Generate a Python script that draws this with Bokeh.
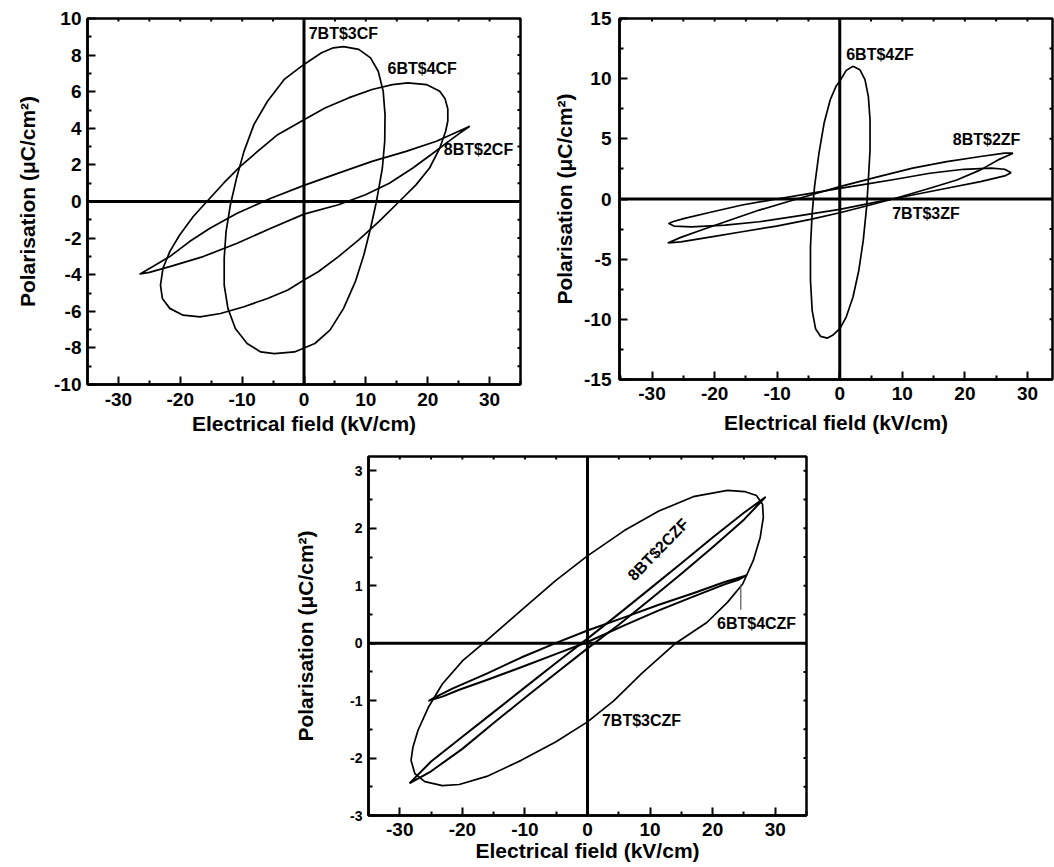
from math import pi
from bokeh.plotting import figure
from bokeh.models import Range1d, FixedTicker, Span, Spacer
from bokeh.layouts import column, row
from bokeh.embed import file_html
from bokeh.resources import INLINE
from bokeh.core.properties import value

FONT = "Liberation Sans"

# ---------------- data (E in kV/cm, P in uC/cm2) ----------------
# Panel A
cf7_x = [6.4, 8.85, 10.76, 12.0, 12.8, 13.1, 13.05, 12.67, 12.1, 11.6, 10.76, 9.67, 8.3, 6.4, 4.2, 1.75, -1.53, -4.8, -7.0, -9.2, -11.1, -12.3, -12.9, -12.9, -12.6, -11.9, -10.9, -9.7, -8.1, -5.9, -3.2, 0.0, 2.84, 4.75]
cf7_y = [8.46, 8.31, 7.85, 7.12, 6.03, 4.75, 3.29, 1.83, 0.73, -0.18, -1.46, -2.92, -4.38, -5.84, -7.03, -7.76, -8.22, -8.31, -8.22, -7.76, -6.94, -5.84, -4.57, -3.1, -1.64, -0.18, 1.28, 2.74, 4.2, 5.48, 6.67, 7.49, 8.13, 8.4]
cf6_x = [16.77, 19.8, 21.95, 22.8, 23.25, 23.25, 22.9, 21.95, 20.3, 18.1, 15.4, 12.1, 8.85, 5.57, 2.3, 0.0, -2.6, -5.9, -9.7, -13.5, -16.8, -19.55, -21.7, -22.9, -23.2, -22.8, -21.7, -20.1, -17.9, -15.7, -13.0, -10.3, -7.5, -4.26, 0.0, 3.39, 7.2, 11.0, 14.3]
cf6_y = [6.48, 6.39, 6.03, 5.62, 5.05, 4.4, 3.84, 2.92, 1.83, 0.91, 0.0, -1.1, -2.1, -3.01, -3.84, -4.29, -4.84, -5.3, -5.75, -6.12, -6.3, -6.21, -5.84, -5.3, -4.57, -3.65, -2.74, -1.83, -0.82, 0.0, 1.0, 1.92, 2.74, 3.65, 4.47, 5.11, 5.66, 6.12, 6.39]
cf8_x = [26.8, 25.2, 23.05, 20.9, 17.6, 13.8, 9.94, 5.57, 0.0, -5.35, -10.8, -16.3, -21.7, -25.0, -26.5, -24.5, -21.7, -18.5, -15.2, -10.8, -5.35, 0.0, 5.57, 11.0, 16.5, 21.4, 24.65]
cf8_y = [4.11, 3.74, 3.2, 2.65, 1.83, 1.0, 0.37, -0.18, -0.69, -1.46, -2.28, -3.01, -3.56, -3.87, -3.96, -3.56, -3.01, -2.19, -1.46, -0.64, 0.18, 0.88, 1.55, 2.19, 2.74, 3.29, 3.78]

# Panel B
zf6_x = [2.12, 3.21, 4.03, 4.57, 4.84, 4.84, 4.57, 4.3, 3.76, 3.05, 2.12, 1.03, 0.0, -1.14, -1.96, -3.05, -3.87, -4.41, -4.68, -4.68, -4.41, -4.03, -3.32, -2.5, -1.52, -0.6, 0.0, 1.03]
zf6_y = [11.03, 10.75, 9.92, 8.53, 6.58, 4.08, 1.58, -0.64, -3.42, -5.92, -8.14, -9.81, -10.78, -11.33, -11.56, -11.42, -10.78, -9.25, -6.75, -3.97, -1.19, 1.03, 3.81, 6.31, 8.25, 9.36, 9.78, 10.69]
zf8_x = [27.7, 25.3, 22.5, 18.7, 14.4, 8.93, 3.48, 0.0, -4.68, -10.1, -15.6, -21.0, -25.4, -27.4, -25.4, -22.1, -18.3, -12.85, -7.4, 0.0, 6.2, 11.65, 17.1, 22.5, 26.35]
zf8_y = [3.81, 3.25, 2.42, 1.58, 0.89, 0.06, -0.69, -1.14, -1.69, -2.25, -2.72, -3.19, -3.56, -3.64, -3.19, -2.58, -1.89, -0.92, -0.08, 1.03, 1.86, 2.56, 3.11, 3.53, 3.81]
zf7_x = [27.4, 26.35, 24.2, 19.8, 14.4, 8.93, 3.48, 0.0, -4.68, -10.1, -15.6, -21.0, -24.8, -26.7, -27.3, -26.5, -23.7, -18.3, -12.85, -7.4, 0.0, 6.2, 11.65, 17.1, 22.5, 26.35]
zf7_y = [2.19, 2.47, 2.56, 2.47, 2.14, 1.64, 1.17, 0.89, 0.47, 0.0, -0.5, -1.14, -1.61, -1.89, -2.03, -2.25, -2.31, -2.17, -1.89, -1.47, -0.86, -0.22, 0.33, 0.89, 1.44, 1.92]

# Panel C
czf7_x = [22.36, 25.1, 27.0, 27.97, 28.1, 27.6, 26.5, 24.8, 22.36, 19.07, 14.1, 8.63, 4.23, 0.0, -5.1, -10.6, -16.1, -20.5, -23.2, -26.0, -27.6, -28.2, -27.9, -27.1, -25.4, -23.2, -19.9, -16.1, -10.6, -5.1, 0.0, 5.88, 11.4, 16.9]
czf7_y = [2.66, 2.64, 2.57, 2.42, 2.19, 1.84, 1.44, 1.03, 0.71, 0.36, 0.0, -0.53, -1.0, -1.37, -1.72, -2.04, -2.32, -2.46, -2.48, -2.41, -2.27, -2.04, -1.81, -1.52, -1.11, -0.71, -0.3, 0.05, 0.57, 1.09, 1.52, 1.96, 2.3, 2.55]
czf8_x = [-28.46, -25.0, -20.0, -15.0, -10.0, -5.0, 0.0, 5.0, 10.0, 15.0, 20.0, 25.0, 28.4, 25.0, 20.0, 15.0, 10.0, 5.0, 0.0, -5.0, -10.0, -15.0, -20.0, -25.0]
czf8_y = [-2.44, -2.06, -1.63, -1.2, -0.77, -0.34, 0.08, 0.51, 0.95, 1.39, 1.84, 2.27, 2.54, 2.15, 1.67, 1.21, 0.76, 0.32, -0.09, -0.52, -0.95, -1.39, -1.84, -2.23]
czf6_x = [25.4, 24.0, 21.8, 16.9, 11.4, 5.88, 0.0, -5.1, -10.6, -16.1, -20.5, -23.2, -25.3, -24.3, -21.6, -16.1, -10.6, -5.1, 0.0, 5.88, 11.4, 16.9, 21.8]
czf6_y = [1.18, 1.1, 1.02, 0.81, 0.57, 0.31, 0.02, -0.19, -0.42, -0.64, -0.81, -0.93, -1.0, -0.94, -0.79, -0.53, -0.25, 0.0, 0.22, 0.45, 0.67, 0.87, 1.06]

# tick labels / ticks
x_major = [-30, -20, -10, 0, 10, 20, 30]
x_minor = [-35, -25, -15, -5, 5, 15, 25, 35]
ya_major = [-10, -8, -6, -4, -2, 0, 2, 4, 6, 8, 10]
ya_minor = [-9, -7, -5, -3, -1, 1, 3, 5, 7, 9]
yb_major = [-15, -10, -5, 0, 5, 10, 15]
yb_minor = [-12.5, -7.5, -2.5, 2.5, 7.5, 12.5]
yc_major = [-3, -2, -1, 0, 1, 2, 3]
yc_minor = [-2.5, -1.5, -0.5, 0.5, 1.5, 2.5]

XLABEL = "Electrical field (kV/cm)"
YLABEL = "Polarisation (\u03bcC/cm\u00b2)"

labels_a = ["7BT$3CF", "6BT$4CF", "8BT$2CF"]
labels_b = ["6BT$4ZF", "8BT$2ZF", "7BT$3ZF"]
labels_c = ["6BT$4CZF", "7BT$3CZF"]
label_c_rot = "8BT$2CZF"


def closed(a):
    return list(a) + [a[0]]


def make_fig(xr, yr, ymaj, ymin, fw, fh, left, right, top, bottom,
             ytick_size, ylab_standoff, ytick_standoff, xtick_standoff, xlab_standoff):
    p = figure(frame_width=fw, frame_height=fh,
               x_range=Range1d(*xr), y_range=Range1d(*yr),
               output_backend="svg", toolbar_location=None,
               min_border_left=left, min_border_right=right,
               min_border_top=top, min_border_bottom=bottom,
               x_axis_label=XLABEL, y_axis_label=YLABEL)
    p.grid.visible = False
    p.outline_line_color = "black"
    p.outline_line_width = 2.5
    p.background_fill_color = "white"
    p.border_fill_color = "white"
    xa = p.xaxis[0]
    ya = p.yaxis[0]
    xa.ticker = FixedTicker(ticks=x_major, minor_ticks=x_minor)
    ya.ticker = FixedTicker(ticks=ymaj, minor_ticks=ymin)
    xa.major_label_overrides = {t: "%g" % t for t in x_major}
    ya.major_label_overrides = {t: "%g" % t for t in ymaj}
    for ax in (xa, ya):
        ax.axis_line_width = 2.5
        ax.major_tick_in = 8
        ax.major_tick_out = 0
        ax.minor_tick_in = 4
        ax.minor_tick_out = 0
        ax.major_tick_line_width = 2
        ax.minor_tick_line_width = 2
        ax.major_label_text_font = FONT
        ax.major_label_text_font_style = "bold"
        ax.major_label_text_color = "black"
        ax.axis_label_text_font = FONT
        ax.axis_label_text_font_style = "bold"
        ax.axis_label_text_font_size = "21px"
        ax.axis_label_text_color = "black"
    xa.major_label_text_font_size = "19px"
    ya.major_label_text_font_size = ytick_size
    ya.major_label_standoff = ytick_standoff
    ya.axis_label_standoff = ylab_standoff
    xa.major_label_standoff = xtick_standoff
    xa.axis_label_standoff = xlab_standoff
    # small tick marks on the top and right frame edges (clipped to the frame)
    tx = sorted(x_major + x_minor)
    ty = sorted(list(ymaj) + list(ymin))
    p.scatter(x=tx, y=[yr[1]] * len(tx), marker="dash", size=6, angle=pi / 2,
              line_color="black", line_width=2)
    p.scatter(x=[xr[1]] * len(ty), y=ty, marker="dash", size=6,
              line_color="black", line_width=2)
    p.add_layout(Span(location=0, dimension="height", line_color="black", line_width=3))
    p.add_layout(Span(location=0, dimension="width", line_color="black", line_width=3))
    return p


def loop(p, xs, ys, w=1.7):
    p.line(closed(xs), closed(ys), line_color="black", line_width=w, line_join="round")


def label(p, x, y, t, align="left", angle=0.0):
    p.text(x=[x], y=[y], text=[t], text_font=value(FONT), text_font_style="bold",
           text_font_size="16px", text_color="black", text_align=align,
           text_baseline="middle", angle=angle)


# Panel A
p1 = make_fig((-35, 35), (-10, 10), ya_major, ya_minor, 433, 366, 87, 10, 17, 60,
              "19px", 12, 6, 8, 3)
loop(p1, cf7_x, cf7_y)
loop(p1, cf6_x, cf6_y)
loop(p1, cf8_x, cf8_y)
label(p1, 0.76, 9.17, labels_a[0])
label(p1, 13.5, 7.25, labels_a[1])
label(p1, 22.6, 2.83, labels_a[2])

# Panel B
p2 = make_fig((-35.2, 34.0), (-15, 15), yb_major, yb_minor, 433, 361, 89, 2, 18, 64,
              "19px", 5, 8, 7, 8)
loop(p2, zf6_x, zf6_y)
loop(p2, zf8_x, zf8_y)
loop(p2, zf7_x, zf7_y)
label(p2, 1.03, 12.0, labels_b[0])
label(p2, 18.07, 4.92, labels_b[1])
label(p2, 8.38, -1.19, labels_b[2])

# Panel C
p3 = make_fig((-35, 35), (-3, 3.25), yc_major, yc_minor, 438, 359, 100, 10, 13, 50,
              "14px", 30, 6, 7, 0)
loop(p3, czf7_x, czf7_y)
loop(p3, czf8_x, czf8_y, 2.0)
loop(p3, czf6_x, czf6_y, 2.0)
label(p3, 11.3, 1.63, label_c_rot, align="center", angle=0.8)
label(p3, 20.7, 0.35, labels_c[0])
label(p3, 2.31, -1.34, labels_c[1])
p3.segment(x0=[24.5], y0=[0.58], x1=[24.5], y1=[1.02], line_color="#555555", line_width=1.2)

layout = column(row(p1, p2), row(Spacer(width=268, height=10), p3))
open("out.html", "w").write(file_html(layout, INLINE))
